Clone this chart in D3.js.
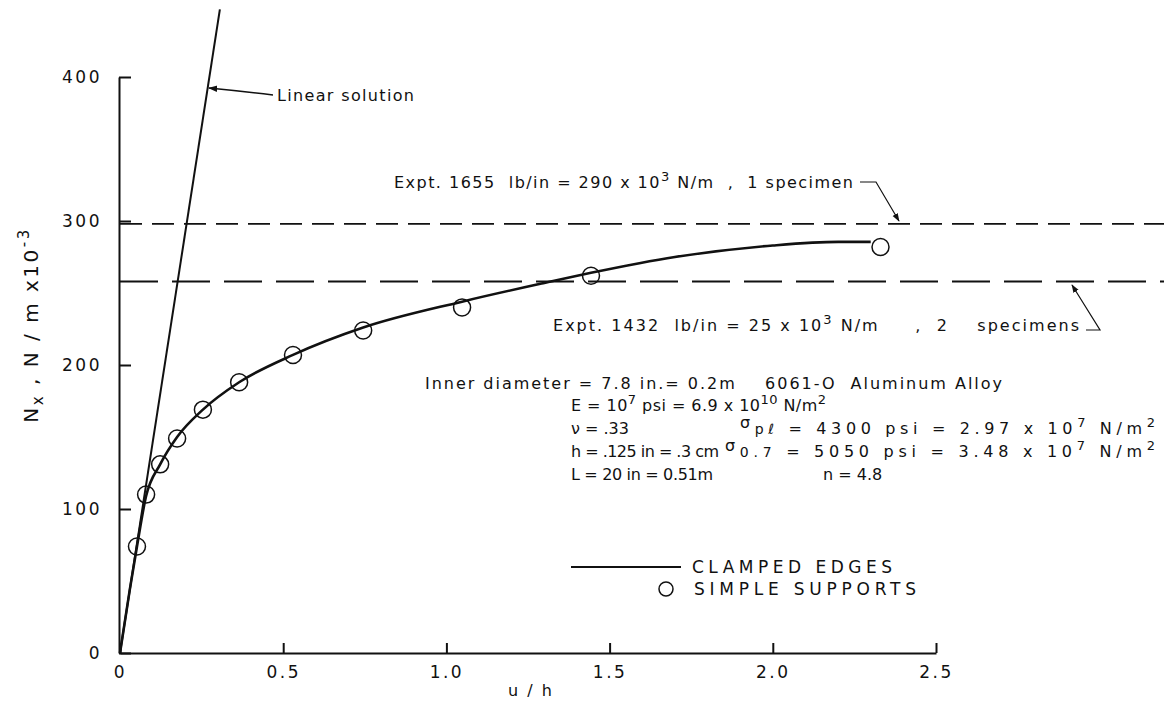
<!DOCTYPE html>
<html><head><meta charset="utf-8">
<script src="https://cdn.jsdelivr.net/npm/d3@7"></script>
<style>
html,body{margin:0;padding:0;background:#fff;}
svg{display:block;}
text{font-family:"DejaVu Sans",sans-serif;fill:#111;white-space:pre;}
</style></head>
<body>
<svg id="chart" width="1164" height="703"></svg>
<script>
// ---- data ----
const xTicks = [0, 0.5, 1.0, 1.5, 2.0, 2.5];
const xTickLabels = ["0", "0.5", "1.0", "1.5", "2.0", "2.5"];
const yTicks = [0, 100, 200, 300, 400];
const yTickLabels = ["0", "100", "200", "300", "400"];

// simple supports (circles)
const supportU = [0.052, 0.080, 0.123, 0.175, 0.254, 0.365, 0.53, 0.745, 1.048, 1.443, 2.33];
const supportN = [74, 110, 131, 149, 169, 188, 207, 224, 240, 262, 282];

// clamped edges (solid curve)
const clampedU = [0, 0.03, 0.052, 0.08, 0.123, 0.175, 0.254, 0.365, 0.53, 0.745, 1.048, 1.3, 1.443, 1.7, 2.0, 2.2, 2.3];
const clampedN = [0, 44, 74, 109, 131, 150, 169, 188, 207, 226, 244, 257, 264, 275, 283, 285.5, 285.5];

// linear solution
const linearU = [0, 0.306];
const linearN = [0, 447];

// experimental levels
const exptLevels = [298, 258];

// ---- drawing ----
const svg = d3.select("#chart");
const x = d3.scaleLinear().domain([0, 2.5]).range([120, 936]);
const y = d3.scaleLinear().domain([0, 400]).range([653, 77]);

const defs = svg.append("defs");
defs.append("marker").attr("id","arr").attr("viewBox","0 0 10 10").attr("refX",9).attr("refY",5)
  .attr("markerWidth",7).attr("markerHeight",7).attr("orient","auto")
  .append("path").attr("d","M0,1.5 L10,5 L0,8.5 Z").attr("fill","#111");

// axes
const yAxis = d3.axisLeft(y).tickValues(yTicks).tickFormat((d,i)=>yTickLabels[i])
  .tickSizeInner(-12).tickSizeOuter(0).tickPadding(15);
const gy = svg.append("g").attr("transform","translate(119,0)").call(yAxis);
const xAxis = d3.axisBottom(x).tickValues(xTicks).tickFormat((d,i)=>xTickLabels[i])
  .tickSizeInner(-10).tickSizeOuter(0).tickPadding(13);
const gx = svg.append("g").attr("transform","translate(0,653)").call(xAxis);
[gy,gx].forEach(g=>{
  g.selectAll("path.domain").attr("stroke","#111").attr("stroke-width",2);
  g.selectAll(".tick line").attr("stroke","#111").attr("stroke-width",2);
  g.selectAll(".tick text").attr("font-family","DejaVu Sans").attr("font-size",17)
    .attr("letter-spacing",2.5).attr("fill","#111");
});
gy.selectAll(".tick text").attr("dx",-2);

// dashed experiment lines
svg.append("line").attr("x1",120).attr("x2",1164).attr("y1",y(exptLevels[0])).attr("y2",y(exptLevels[0]))
  .attr("stroke","#111").attr("stroke-width",1.8).attr("stroke-dasharray","22,10");
svg.append("line").attr("x1",120).attr("x2",1164).attr("y1",y(exptLevels[1])).attr("y2",y(exptLevels[1]))
  .attr("stroke","#111").attr("stroke-width",1.8).attr("stroke-dasharray","38,14");

// linear solution
svg.append("path").datum(d3.zip(linearU, linearN))
  .attr("d", d3.line().x(d=>x(d[0])).y(d=>y(d[1])))
  .attr("fill","none").attr("stroke","#111").attr("stroke-width",2);

// clamped curve
svg.append("path").datum(d3.zip(clampedU, clampedN))
  .attr("d", d3.line().x(d=>x(d[0])).y(d=>y(d[1])).curve(d3.curveMonotoneX))
  .attr("fill","none").attr("stroke","#111").attr("stroke-width",2.6);

// circles
svg.append("g").selectAll("circle").data(d3.zip(supportU, supportN)).join("circle")
  .attr("cx",d=>x(d[0])).attr("cy",d=>y(d[1])).attr("r",8.5)
  .attr("fill","none").attr("stroke","#111").attr("stroke-width",1.5);

// y axis title
const yt = svg.append("text").attr("transform","translate(38,325) rotate(-90)")
  .attr("text-anchor","middle").attr("font-size",20).attr("letter-spacing",2.5);
yt.append("tspan").text("N");
yt.append("tspan").attr("font-size",15).attr("dy",5).text("x");
yt.append("tspan").attr("dy",-5).text(" , N / m x10");
yt.append("tspan").attr("font-size",15).attr("dy",-9).text("-3");

// x axis title
svg.append("text").attr("x",531).attr("y",696).attr("text-anchor","middle")
  .attr("font-size",16).attr("letter-spacing",2).text("u / h");

// linear solution label + arrow
svg.append("text").attr("x",277).attr("y",101).attr("font-size",16)
  .attr("textLength",137).attr("lengthAdjust","spacing").text("Linear solution");
svg.append("path").attr("d","M273,95 Q240,91 209,88").attr("fill","none")
  .attr("stroke","#111").attr("stroke-width",1.3).attr("marker-end","url(#arr)");

// helper for rich text
function rich(xp, yp, parts, fs, len){
  const t = svg.append("text").attr("x",xp).attr("y",yp).attr("font-size",fs);
  if(len) t.attr("textLength",len).attr("lengthAdjust","spacing");
  parts.forEach(p=>{
    const s = t.append("tspan").text(p[0]);
    if(p[1]) s.attr("dy",p[1]);
    if(p[2]) s.attr("font-size",p[2]);
  });
  return t;
}

// Expt labels
rich(394,188,[["Expt. 1655  lb/in = 290 x 10"],["3",-7,13],[" N/m  ,  1 specimen",7]],16,459);
svg.append("path").attr("d","M860,182 L876,182 L899,221").attr("fill","none")
  .attr("stroke","#111").attr("stroke-width",1.2).attr("marker-end","url(#arr)");
rich(553,331,[["Expt. 1432  lb/in = 25 x 10"],["3",-7,13],[" N/m     ,  2    specimens",7]],16,526);
svg.append("path").attr("d","M1086,330 L1100,330 L1072,285").attr("fill","none")
  .attr("stroke","#111").attr("stroke-width",1.2).attr("marker-end","url(#arr)");

// info block
rich(425,389,[["Inner diameter = 7.8 in.= 0.2m    6061-O  Aluminum Alloy"]],16,577);
rich(571,411,[["E = 10"],["7",-7,13],[" psi = 6.9 x 10",7],["10",-7,13],[" N/m",7],["2",-7,13]],16,255);
rich(571,434,[["ν = .33"]],16);
rich(740,434,[["σ",-6],["pℓ",6,14],[" = 4300 psi = 2.97 x 10"],["7",-7,13],[" N/m",7],["2",-7,13]],16,415);
rich(571,457,[["h = .125 in = .3 cm"]],16,148);
rich(725,457,[["σ",-6],["0.7",6,14],[" = 5050 psi = 3.48 x 10"],["7",-7,13],[" N/m",7],["2",-7,13]],16,430);
rich(571,480,[["L = 20 in = 0.51m"]],16,142);
rich(823,480,[["n = 4.8"]],16);

// legend
svg.append("line").attr("x1",571).attr("x2",681).attr("y1",567).attr("y2",567)
  .attr("stroke","#111").attr("stroke-width",2.2);
svg.append("text").attr("x",692).attr("y",573).attr("font-size",17)
  .attr("textLength",200).attr("lengthAdjust","spacing").text("CLAMPED EDGES");
svg.append("circle").attr("cx",666).attr("cy",589).attr("r",7)
  .attr("fill","none").attr("stroke","#111").attr("stroke-width",1.5);
svg.append("text").attr("x",694).attr("y",595).attr("font-size",17)
  .attr("textLength",222).attr("lengthAdjust","spacing").text("SIMPLE SUPPORTS");
</script>
</body></html>
